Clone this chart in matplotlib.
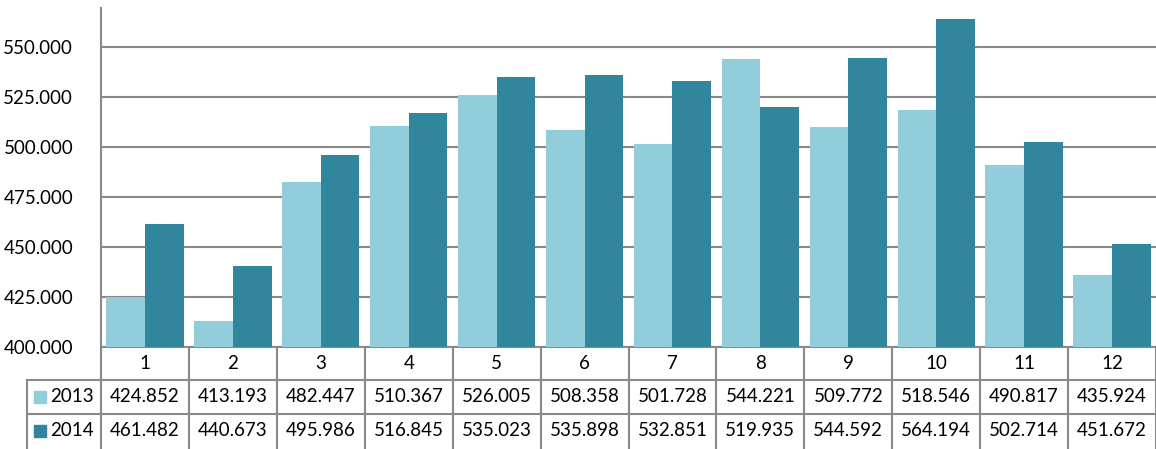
import numpy as np
import matplotlib.pyplot as plt
from matplotlib.transforms import blended_transform_factory

# monthly values (thousands separated with a dot in the labels)
months = ['1', '2', '3', '4', '5', '6', '7', '8', '9', '10', '11', '12']
series_names = ['2013', '2014']
values_2013 = [424852, 413193, 482447, 510367, 526005, 508358,
               501728, 544221, 509772, 518546, 490817, 435924]
values_2014 = [461482, 440673, 495986, 516845, 535023, 535898,
               532851, 519935, 544592, 564194, 502714, 451672]
yticks = [400000, 425000, 450000, 475000, 500000, 525000, 550000]

colors = ['#92CDDC', '#31859C']
grid_color = '#898989'


def fmt(v):
    return f"{v:,}".replace(',', '.')


plt.rcParams['font.family'] = ['Lato', 'DejaVu Sans']
fs = 13.5

W, H = 1156, 449
fig = plt.figure(figsize=(W / 100, H / 100), dpi=100)
ax = fig.add_axes([101 / W, 1 - 347 / H, (W - 101) / W, 339 / H])

x = np.arange(len(months))
bw = 0.44
ax.bar(x - bw / 2, values_2013, bw, color=colors[0], zorder=3)
ax.bar(x + bw / 2, values_2014, bw, color=colors[1], zorder=3)

ax.set_xlim(-0.5, len(months) - 0.5)
ax.set_ylim(400000, 569500)
ax.set_yticks(yticks)
ax.set_yticklabels([fmt(t) for t in yticks], fontsize=fs)
ax.tick_params(axis='y', length=0, pad=20)
ax.set_xticks([])
ax.grid(axis='y', color=grid_color, linewidth=1.5, zorder=0)
for s in ['top', 'right', 'bottom']:
    ax.spines[s].set_visible(False)
ax.spines['left'].set_color(grid_color)
ax.spines['left'].set_linewidth(1.5)

# data table under the chart
tr = blended_transform_factory(ax.transData, fig.transFigure)
def fy(py):
    return 1 - py / H

lw = 1.5
label_left = -0.5 - (101 - 27) / 88.0
# horizontal lines
ax.plot([-0.5, len(months) - 0.5], [fy(347)] * 2, color=grid_color, lw=lw, transform=tr, clip_on=False)
for py in [380, 414]:
    ax.plot([label_left, len(months) - 0.5], [fy(py)] * 2, color=grid_color, lw=lw,
            transform=tr, clip_on=False)
# vertical lines
for b in np.arange(-0.5, len(months) + 0.5, 1.0):
    ax.plot([b, b], [fy(347), fy(450)], color=grid_color, lw=lw, transform=tr, clip_on=False)
ax.plot([label_left, label_left], [fy(380), fy(450)], color=grid_color, lw=lw,
        transform=tr, clip_on=False)

row_centers = [363.5, 397, 431]
for i, m in enumerate(months):
    ax.text(i, fy(row_centers[0]), m, ha='center', va='center', fontsize=fs,
            transform=tr, clip_on=False)
    ax.text(i, fy(row_centers[1]), fmt(values_2013[i]), ha='center', va='center',
            fontsize=fs, transform=tr, clip_on=False)
    ax.text(i, fy(row_centers[2]), fmt(values_2014[i]), ha='center', va='center',
            fontsize=fs, transform=tr, clip_on=False)

for r, (name, c) in enumerate(zip(series_names, colors)):
    yc = row_centers[r + 1]
    fig.patches.append(plt.Rectangle((34 / W, fy(yc + 6)), 12 / W, 12 / H, color=c,
                                     transform=fig.transFigure, figure=fig))
    fig.text(50 / W, fy(yc), name, ha='left', va='center', fontsize=fs)

fig.savefig('out.png', dpi=100)
